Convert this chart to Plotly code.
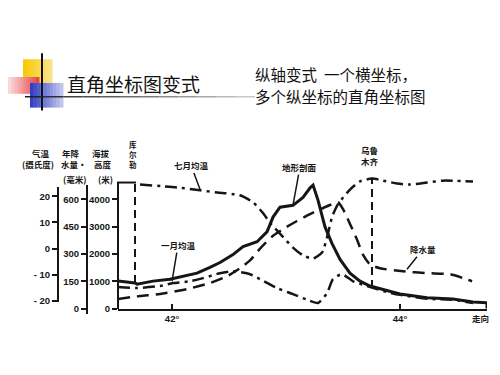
import plotly.graph_objects as go

# page has an 8px body margin; figure is placed at (8, 8)
OFF = 8
W, H = 484, 359
def px(x): return (x - OFF) / W
def py(y): return 1 - (y - OFF) / H

# ---------------- data ----------------
terrain_lat = [41.526, 41.675, 41.693, 41.833, 41.982, 42.096, 42.219, 42.333, 42.421, 42.535,
               42.623, 42.746, 42.833, 42.886, 42.947, 43.061, 43.149, 43.211, 43.237, 43.281,
               43.342, 43.404, 43.474, 43.561, 43.649, 43.737, 43.886, 44.0, 44.237, 44.465,
               44.640, 44.763, 44.763]
terrain_elev = [1010, 940, 900, 1010, 1080, 1190, 1300, 1510, 1690, 1980,
                2270, 2450, 2810, 3350, 3710, 3780, 4070, 4420, 4520, 3960,
                2990, 2380, 1800, 1300, 1010, 830, 650, 540, 400, 360,
                250, 220, 0]

july_lat = [41.719, 42.044, 42.246, 42.395, 42.596, 42.711, 42.798, 42.860, 42.947, 43.061,
            43.149, 43.237, 43.316, 43.368, 43.404, 43.456, 43.561, 43.649, 43.754, 43.851,
            43.974, 44.088, 44.237, 44.377, 44.640]
july_temp = [24.5, 23.4, 22.3, 21.5, 20.4, 17.7, 13.6, 9.8, 5.7, 0.4,
             -2.6, -3.8, -1.5, 5.7, 12.1, 17.0, 22.6, 25.7, 26.8, 26.0,
             24.9, 24.5, 25.3, 26.0, 25.7]

jan_lat = [41.526, 41.693, 41.895, 42.009, 42.158, 42.272, 42.421, 42.535, 42.684, 42.772,
           42.921, 43.061, 43.211, 43.281, 43.360, 43.412, 43.491, 43.588, 43.711, 43.886,
           44.0, 44.237, 44.465, 44.640]
jan_temp = [-14.7, -15.1, -14.3, -13.2, -12.5, -11.3, -9.4, -8.7, -9.8, -11.7,
            -15.1, -17.4, -20.0, -20.8, -17.0, -11.7, -9.8, -12.5, -14.3, -16.6,
            -17.7, -19.2, -19.6, -20.8]

precip_lat = [41.526, 41.719, 41.895, 42.132, 42.333, 42.482, 42.596, 42.684, 42.772, 42.886,
              42.991, 43.096, 43.211, 43.360, 43.456, 43.500, 43.561, 43.623, 43.675, 43.737,
              43.825, 44.026, 44.237, 44.439, 44.553, 44.632]
precip_mm = [54, 70, 81, 108, 141, 178, 222, 265, 330, 400,
             443, 481, 519, 562, 584, 546, 465, 378, 297, 243,
             222, 205, 195, 189, 168, 151]

city_names = ["库尔勒", "乌鲁木齐"]
city_lat = [41.675, 43.754]
city_line_bottom = [940, 760]
city_line_top = [4610, 4790]

temp_ticks = [-20, -10, 0, 10, 20]
temp_ticklabels = ["- 20", "- 10", "0", "10", "20"]
precip_ticks = [0, 150, 300, 450, 600]
elev_ticks = [0, 1000, 2000, 3000, 4000]
lat_ticks = [42, 44]
lat_ticklabels = ["42°", "44°"]

# ---------------- geometry (reference pixel positions) ----------------
X0, X1 = 118, 487
LAT0, LAT1 = 41.526, 44.763
YTOP, YBOT = 178, 313
M_PER_PX = 1000 / 27.75
MM_PER_PX = 1 / 0.185
PX_PER_DEG = 2.65
T0_PX = 252

INK = "#161616"
NUMFONT = dict(family="Liberation Sans", size=9.5, color=INK, weight="bold")
CJK = "Noto Sans CJK SC"

fig = go.Figure()

fig.add_trace(go.Scatter(x=terrain_lat, y=terrain_elev, mode="lines", yaxis="y",
                         line=dict(color=INK, width=3), showlegend=False))
for cl, b, t in zip(city_lat, city_line_bottom, city_line_top):
    fig.add_trace(go.Scatter(x=[cl, cl], y=[b, t], mode="lines", yaxis="y",
                             line=dict(color=INK, width=2, dash="8px,5px"), showlegend=False))
fig.add_trace(go.Scatter(x=precip_lat, y=precip_mm, mode="lines", yaxis="y2",
                         line=dict(color=INK, width=2.5, dash="12px,7px", shape="spline", smoothing=0.6),
                         showlegend=False))
fig.add_trace(go.Scatter(x=july_lat, y=july_temp, mode="lines", yaxis="y3",
                         line=dict(color=INK, width=2.5, dash="12px,5px,3px,5px", shape="spline", smoothing=0.6),
                         showlegend=False))
fig.add_trace(go.Scatter(x=jan_lat, y=jan_temp, mode="lines", yaxis="y3",
                         line=dict(color=INK, width=2.5, dash="12px,5px,3px,5px", shape="spline", smoothing=0.6),
                         showlegend=False))
for ya in ["y4", "y5", "y6"]:
    fig.add_trace(go.Scatter(x=[], y=[], yaxis=ya, showlegend=False, hoverinfo="skip"))

dom_main = [py(YBOT), py(YTOP)]
axis_common = dict(showgrid=False, zeroline=False, showline=True, linecolor=INK, linewidth=2,
                   ticks="outside", ticklen=5, tickwidth=1.5, tickcolor=INK, tickfont=NUMFONT,
                   tickmode="array", anchor="free", side="left")

fig.update_layout(
    width=W, height=H, margin=dict(l=0, r=0, t=0, b=0),
    paper_bgcolor="white", plot_bgcolor="rgba(0,0,0,0)", showlegend=False,
    xaxis=dict(domain=[px(X0), px(X1)], range=[LAT0, LAT1], showgrid=False, zeroline=False,
               showline=True, linecolor=INK, linewidth=2, ticks="inside", ticklen=5,
               tickwidth=1.5, tickcolor=INK, tickmode="array", tickvals=lat_ticks,
               ticktext=lat_ticklabels, tickfont=NUMFONT, anchor="y"),
    yaxis=dict(domain=dom_main, range=[0, (YBOT - YTOP) * M_PER_PX], visible=False),
    yaxis2=dict(domain=dom_main, range=[0, (YBOT - YTOP) * MM_PER_PX], overlaying="y", visible=False),
    yaxis3=dict(domain=dom_main, range=[(T0_PX - YBOT) / PX_PER_DEG, (T0_PX - YTOP) / PX_PER_DEG],
                overlaying="y", visible=False),
    yaxis4=dict(axis_common, domain=[py(313), py(185)], range=[0, (313 - 185) * M_PER_PX],
                position=px(118), tickvals=elev_ticks),
    yaxis5=dict(axis_common, domain=[py(318), py(187)],
                range=[-(318 - 313) * MM_PER_PX, (313 - 187) * MM_PER_PX],
                position=px(87), tickvals=precip_ticks),
    yaxis6=dict(axis_common, domain=[py(306), py(190)],
                range=[(T0_PX - 306) / PX_PER_DEG, (T0_PX - 190) / PX_PER_DEG],
                position=px(58), tickvals=temp_ticks, ticktext=temp_ticklabels),
)

shapes = []
shapes.append(dict(type="line", xref="paper", yref="paper", x0=px(117), x1=px(136),
                   y0=py(185), y1=py(185), line=dict(color=INK, width=2)))

def hexmix(c1, c2, t):
    a = [int(c1[i:i + 2], 16) for i in (1, 3, 5)]
    b = [int(c2[i:i + 2], 16) for i in (1, 3, 5)]
    return "#%02x%02x%02x" % tuple(round(a[k] + (b[k] - a[k]) * t) for k in range(3))

def grad_rect(x0, x1, y0, y1, cl, cr, n=10):
    for i in range(n):
        xa = x0 + (x1 - x0) * i / n
        xb = x0 + (x1 - x0) * (i + 1) / n
        shapes.append(dict(type="rect", xref="paper", yref="paper", x0=px(xa), x1=px(xb) + 0.001,
                           y0=py(y1), y1=py(y0), line=dict(width=0),
                           fillcolor=hexmix(cl, cr, (i + 0.5) / n)))

grad_rect(23, 52, 60, 86, "#f8c800", "#fbe48a")
grad_rect(8, 39, 78, 95, "#fbe0e0", "#e84040")
grad_rect(30, 63, 84, 109, "#2a38c0", "#c8ccf0")
shapes.append(dict(type="line", xref="paper", yref="paper", x0=px(42), x1=px(42),
                   y0=py(54), y1=py(112), line=dict(color="#111111", width=2)))
for i in range(12):
    xa = 25 + (255 - 25) * i / 12
    xb = 25 + (255 - 25) * (i + 1) / 12
    shapes.append(dict(type="line", xref="paper", yref="paper", x0=px(xa), x1=px(xb),
                       y0=py(98), y1=py(98),
                       line=dict(color=hexmix("#202020", "#c8c8c8", i / 11), width=1.5)))
fig.update_layout(shapes=shapes)

ann = []
def label(x, y, text, size=8.5, xanchor="center", family=CJK, weight="bold", color=INK):
    ann.append(dict(x=px(x), y=py(y), xref="paper", yref="paper", text=text, showarrow=False,
                    xanchor=xanchor, yanchor="middle",
                    font=dict(family=family, size=size, color=color, weight=weight)))

label(65, 85, "直角坐标图变式", size=19, xanchor="left", weight="normal", color="#111111")
label(253, 75, "纵轴变式&nbsp;&nbsp;一个横坐标，", size=15.5, xanchor="left", weight="normal", color="#111111")
label(253, 97, "多个纵坐标的直角坐标图", size=15.5, xanchor="left", weight="normal", color="#111111")

label(41, 155, "气温")
label(38, 166, "(摄氏度)")
label(71, 155, "年降")
label(74, 166, "水量·")
label(74, 181, "(毫米)")
label(101, 155, "海拔")
label(103, 166, "高度")
label(105, 181, "(米)")
ann.append(dict(x=px(133), y=py(157), xref="paper", yref="paper", text="库<br>尔<br>勒",
                showarrow=False, xanchor="center", yanchor="middle",
                font=dict(family=CJK, size=7.5, color=INK, weight="bold")))
ann.append(dict(x=px(370), y=py(158), xref="paper", yref="paper", text="乌鲁<br>木齐",
                showarrow=False, xanchor="center", yanchor="middle",
                font=dict(family=CJK, size=8.5, color=INK, weight="bold")))
label(480, 322, "走向", size=8.5)

def leader(x, y, yref, text, ax, ay):
    ann.append(dict(x=x, y=y, xref="x", yref=yref, text=text, showarrow=True, arrowhead=0,
                    arrowwidth=1.5, arrowcolor=INK, ax=ax, ay=ay, standoff=0,
                    font=dict(family=CJK, size=8.5, color=INK, weight="bold")))

leader(42.246, (T0_PX - 192) / PX_PER_DEG, "y3", "七月均温", -9, -24)
leader(42.0, (T0_PX - 285) / PX_PER_DEG, "y3", "一月均温", 6, -36)
leader(43.061, (YBOT - 208) * M_PER_PX, "y", "地形剖面", 7, -38)
leader(44.061, (YBOT - 273) * MM_PER_PX, "y2", "降水量", 16, -20)

fig.update_layout(annotations=ann)
fig.write_html("out.html")
